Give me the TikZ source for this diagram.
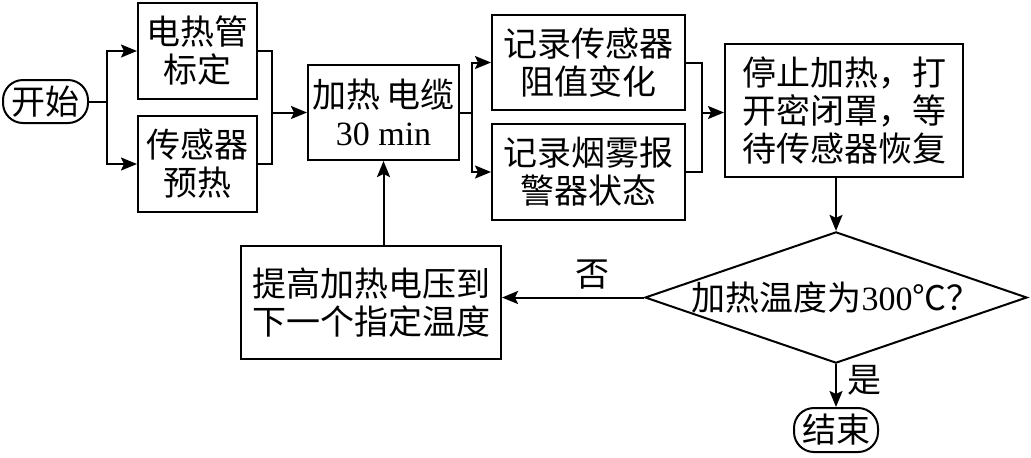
\documentclass[tikz,border=0pt]{standalone}
\usepackage{fontspec}
\setmainfont{Noto Sans CJK SC}
\newfontfamily\numfont{Liberation Serif}
\usetikzlibrary{shapes.geometric, arrows.meta}

\begin{document}
\begin{tikzpicture}[
    x=0.5pt, y=-0.5pt, line width=1pt,
    >={Stealth[length=8pt, width=6.5pt, inset=1.5pt]},
    every node/.style={font=\fontsize{17pt}{19pt}\selectfont, inner sep=0pt, align=center},
    box/.style={draw, rectangle},
    terminal/.style={draw, rectangle, rounded corners=10pt},
    decision/.style={draw, diamond, aspect=2.9}
]
    \useasboundingbox (0,0) rectangle (1031,457);

    \node[terminal, minimum width=42.5pt, minimum height=21.5pt] (start) at (45.5,101.5) {开始};
    \node[box, minimum width=59.5pt, minimum height=48pt]   (tube)    at (197.5,51)   {电热管\\标定};
    \node[box, minimum width=59.5pt, minimum height=48pt]   (sensor)  at (197.5,164)  {传感器\\预热};
    \node[box, minimum width=75.5pt, minimum height=47.5pt] (cable)   at (383.5,112.5) {加热\,电缆\\{\numfont 30 min}};
    \node[box, minimum width=96.5pt, minimum height=47.5pt] (record1) at (588.5,62.5) {记录传感器\\阻值变化};
    \node[box, minimum width=96.5pt, minimum height=48pt]   (record2) at (588.5,172)  {记录烟雾报\\警器状态};
    \node[box, minimum width=119pt, minimum height=66.5pt]  (stop)    at (844,110.5)  {停止加热，打\\开密闭罩，等\\待传感器恢复};
    \node[decision, minimum width=191pt, minimum height=65.5pt] (dia) at (836,297.5) {加热温度为{\numfont 300}℃？};
    \node[box, minimum width=130pt, minimum height=56.5pt]  (raise)   at (371,302.5)  {提高加热电压到\\下一个指定温度};
    \node[terminal, minimum width=42pt, minimum height=22pt] (finish) at (836,430) {结束};

    \coordinate (split1) at (107,101.5);
    \coordinate (join1)  at (272,112.5);
    \coordinate (split2) at (472,112.5);
    \coordinate (join2)  at (702,112.5);

    % start splits into two preparations
    \draw (start.east) -- (split1);
    \draw[->] (split1) |- (tube);
    \draw[->] (split1) |- (sensor);
    \draw (tube.east) -| (join1);
    \draw (sensor.east) -| (join1);
    \draw[->] (join1) -- (cable);

    % heating and recording
    \draw (cable.east) -- (split2);
    \draw[->] (split2) |- (record1);
    \draw[->] (split2) |- (record2);
    \draw (record1.east) -| (join2);
    \draw (record2.east) -| (join2);
    \draw[->] (join2) -- (stop.west |- join2);

    % check and loop back
    \draw[->] (stop.south -| dia.north) -- (dia.north);
    \draw[->] (dia.west) -- node[above=3.5pt, pos=0.36] {否} (dia.west -| raise.east);
    \draw[->] (cable.south |- raise.north) -- (cable.south);
    \draw[->] (dia.south) -- node[right=5pt, pos=0.38] {是} (finish.north);
\end{tikzpicture}
\end{document}
